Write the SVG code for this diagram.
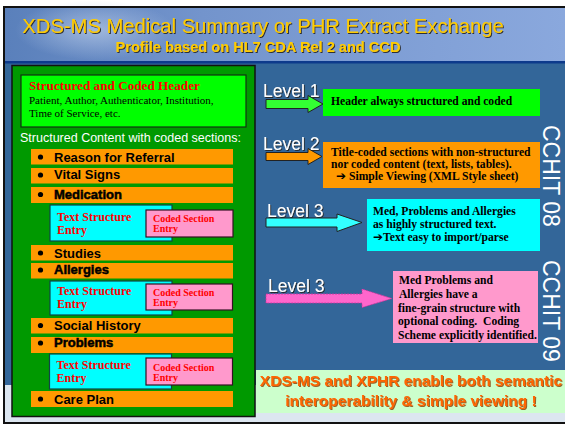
<svg xmlns="http://www.w3.org/2000/svg" width="565" height="426" viewBox="0 0 565 426">
<defs>
  <linearGradient id="tg" x1="0" y1="0" x2="1" y2="0">
    <stop offset="0" stop-color="#5a80bb"/>
    <stop offset="0.35" stop-color="#7394cc"/>
    <stop offset="1" stop-color="#8aa8dd"/>
  </linearGradient>
  <radialGradient id="glow" cx="0.5" cy="0.5" r="0.5">
    <stop offset="0" stop-color="#b8cbe8" stop-opacity="0.7"/>
    <stop offset="1" stop-color="#b8cbe8" stop-opacity="0"/>
  </radialGradient>
  <filter id="sh" x="-5%" y="-20%" width="110%" height="150%">
    <feDropShadow dx="1" dy="1" stdDeviation="0.2" flood-color="#222" flood-opacity="0.9"/>
  </filter>
  <filter id="sho" x="-5%" y="-20%" width="110%" height="150%">
    <feDropShadow dx="1" dy="1" stdDeviation="0.2" flood-color="#8a3a00" flood-opacity="0.8"/>
  </filter>
</defs>
<style>
  .sans{font-family:"Liberation Sans",Arial,sans-serif}
  .serif{font-family:"Liberation Serif","Times New Roman",serif}
  .bar{fill:#ff9900}
  .bul{fill:#000}
  .item{font-family:"Liberation Sans",Arial,sans-serif;font-size:13px;font-weight:bold;fill:#000}
  .heavy{stroke:#000;stroke-width:0.5}
  .cy{fill:#00ffff;stroke:#114444;stroke-width:1.2}
  .pk{fill:#ff99cc;stroke:#331122;stroke-width:1.2}
  .tse{font-family:"Liberation Serif","Times New Roman",serif;font-size:12px;font-weight:bold;fill:#ff0000}
  .cse{font-family:"Liberation Serif","Times New Roman",serif;font-size:10px;font-weight:bold;fill:#ff0000}
  .lvl{font-family:"Liberation Sans",Arial,sans-serif;font-size:17.5px;fill:#fff}
  .bx{font-family:"Liberation Serif","Times New Roman",serif;font-size:11.6px;font-weight:bold;fill:#000}
  .ar{font-family:"DejaVu Sans",sans-serif;font-size:12px;font-weight:bold}
  .cchit{font-family:"Liberation Sans",Arial,sans-serif;font-size:23px;fill:#fff}
  .arr{stroke:#222;stroke-width:1}
</style>

<!-- slide background -->
<rect x="0" y="0" width="565" height="426" fill="#ffffff"/>
<rect x="4" y="7" width="562" height="416" fill="#336699"/>
<rect x="5" y="8" width="560" height="53" fill="url(#tg)"/>
<ellipse cx="95" cy="30" rx="80" ry="30" fill="url(#glow)"/>
<rect x="5" y="61" width="560" height="2.5" fill="#0d3a8c"/>
<rect x="5" y="385" width="560" height="37" fill="#dce6f0"/>

<!-- title -->
<g id="title">
  <text class="sans" x="263" y="33" text-anchor="middle" font-size="20.2" fill="#ffcc00" filter="url(#sh)">XDS-MS Medical Summary or PHR Extract Exchange</text>
  <text class="sans" x="258" y="51.5" text-anchor="middle" font-size="14.6" font-weight="bold" fill="#ffcc00" filter="url(#sh)">Profile based on HL7 CDA Rel 2 and CCD</text>
</g>

<!-- left structure -->
<g id="document">
  <rect x="12" y="65.5" width="243" height="351" fill="#009900" stroke="#111" stroke-width="1.5"/>
</g>
<g id="header">
  <rect x="21" y="75" width="225" height="52" fill="#00ff00" stroke="#113311" stroke-width="1.2"/>
  <text class="serif" x="29" y="89.5" font-size="13.2" font-weight="bold" fill="#ff0000">Structured and Coded Header</text>
  <text class="serif" x="29" y="103.5" font-size="11" fill="#000">Patient, Author, Authenticator, Institution,</text>
  <text class="serif" x="29" y="117" font-size="11" fill="#000">Time of Service, etc.</text>
</g>
<text class="sans" x="20" y="141.5" font-size="12.5" fill="#fff">Structured Content with coded sections:</text>

<g id="reason">
  <rect class="bar" x="31" y="149" width="202" height="15.5"/>
  <circle class="bul" cx="40.5" cy="157" r="2.6"/>
  <text class="item" x="54" y="161.5">Reason for Referral</text>
</g>
<g id="vitals">
  <rect class="bar" x="31" y="168" width="202" height="15.5"/>
  <circle class="bul" cx="40.5" cy="175" r="2.6"/>
  <text class="item" x="54" y="179">Vital Signs</text>
</g>
<g id="medication">
  <rect class="bar" x="31" y="187" width="202" height="16"/>
  <circle class="bul" cx="40.5" cy="194.5" r="2.6"/>
  <text class="item heavy" x="54" y="198.5">Medication</text>
</g>
<g id="med-entries">
  <rect class="cy" x="50" y="205" width="122" height="36"/>
  <text class="tse" x="57" y="221">Text Structure</text>
  <text class="tse" x="57" y="234">Entry</text>
  <rect class="pk" x="146" y="210" width="87" height="27"/>
  <text class="cse" x="153" y="222">Coded Section</text>
  <text class="cse" x="153" y="232">Entry</text>
</g>
<g id="studies">
  <rect class="bar" x="31" y="245" width="202" height="15.5"/>
  <circle class="bul" cx="40.5" cy="253" r="2.6"/>
  <text class="item" x="54" y="257.5">Studies</text>
</g>
<g id="allergies">
  <rect class="bar" x="31" y="263" width="202" height="15.5"/>
  <circle class="bul" cx="40.5" cy="270" r="2.6"/>
  <text class="item heavy" x="54" y="274">Allergies</text>
</g>
<g id="allergy-entries">
  <rect class="cy" x="50" y="281" width="122" height="34"/>
  <text class="tse" x="57" y="295">Text Structure</text>
  <text class="tse" x="57" y="308">Entry</text>
  <rect class="pk" x="146" y="284" width="86.5" height="26"/>
  <text class="cse" x="153" y="296">Coded Section</text>
  <text class="cse" x="153" y="306">Entry</text>
</g>
<g id="social">
  <rect class="bar" x="31" y="318" width="202" height="15.5"/>
  <circle class="bul" cx="40.5" cy="325.5" r="2.6"/>
  <text class="item" x="54" y="329.5">Social History</text>
</g>
<g id="problems">
  <rect class="bar" x="31" y="337" width="202" height="16"/>
  <circle class="bul" cx="40.5" cy="343" r="2.6"/>
  <text class="item heavy" x="54" y="346.5">Problems</text>
</g>
<g id="problem-entries">
  <rect class="cy" x="49.5" y="354" width="122" height="35"/>
  <text class="tse" x="56.5" y="368.5">Text Structure</text>
  <text class="tse" x="56.5" y="382">Entry</text>
  <rect class="pk" x="146" y="358" width="86.5" height="27"/>
  <text class="cse" x="153" y="370.5">Coded Section</text>
  <text class="cse" x="153" y="380.5">Entry</text>
</g>
<g id="careplan">
  <rect class="bar" x="31" y="391" width="202" height="16"/>
  <circle class="bul" cx="40.5" cy="399" r="2.6"/>
  <text class="item" x="54" y="403.5">Care Plan</text>
</g>

<!-- level labels -->
<g id="labels">
  <text class="lvl" x="263" y="97" filter="url(#sh)">Level 1</text>
  <text class="lvl" x="263" y="150" filter="url(#sh)">Level 2</text>
  <text class="lvl" x="267" y="217" filter="url(#sh)">Level 3</text>
  <text class="lvl" x="268" y="292" filter="url(#sh)">Level 3</text>
</g>

<!-- connectors (block arrows) -->
<g id="connectors">
  <path class="arr" fill="#33ff33" d="M266,99.5 H308 V95.5 L323,104 L308,112.5 V108.5 H266 Z"/>
  <path class="arr" fill="#ff9900" d="M266,152.5 H308 V148.5 L322,156.5 L308,164.5 V160.5 H266 Z"/>
  <path class="arr" fill="#33ffff" d="M266,218 H337 V214 L362,222.5 L337,231.5 V227 H266 Z"/>
  <path fill="#ff66cc" stroke="#cc3399" stroke-width="0.8" stroke-dasharray="2 1" d="M266,294 H362 V289 L392,298.5 L362,307.5 V303 H266 Z"/>
</g>

<!-- level boxes -->
<g id="level1">
  <rect x="323" y="89" width="217" height="27" fill="#00ff00"/>
  <text class="bx" x="331" y="105">Header always structured and coded</text>
</g>
<g id="level2">
  <rect x="323" y="142" width="217" height="46" fill="#ff9900"/>
  <text class="bx" x="331" y="155.5">Title-coded sections with non-structured</text>
  <text class="bx" x="331" y="167.5">nor coded content (text, lists, tables).</text>
  <text class="bx" x="336" y="180" fill="#ffffff"><tspan class="ar">➔</tspan> Simple Viewing (XML Style sheet)</text>
</g>
<g id="level3a">
  <rect x="367" y="199" width="173" height="52" fill="#00ffff"/>
  <text class="bx" x="373" y="215">Med, Problems and Allergies</text>
  <text class="bx" x="373" y="227.5">as highly structured text.</text>
  <text class="bx" x="373" y="241" fill="#0000ff"><tspan class="ar">➔</tspan>Text easy to import/parse</text>
</g>
<g id="level3b">
  <rect x="393" y="271" width="145" height="72" fill="#ff99cc"/>
  <text class="bx" x="399" y="284">Med Problems and</text>
  <text class="bx" x="399" y="298">Allergies have a</text>
  <text class="bx" x="398" y="312">fine-grain structure with</text>
  <text class="bx" x="398" y="325" xml:space="preserve">optional coding.  Coding</text>
  <text class="bx" x="398" y="338.5">Scheme explicitly identified.</text>
</g>

<!-- CCHIT labels -->
<g id="cchit">
  <text class="cchit" transform="translate(543,125) rotate(90)">CCHIT 08</text>
  <text class="cchit" transform="translate(543,260) rotate(90)">CCHIT 09</text>
</g>

<!-- conclusion -->
<g id="conclusion">
  <rect x="256" y="370" width="309" height="43" fill="#ccffcc"/>
  <text class="sans" x="411" y="385.5" text-anchor="middle" font-size="15.5" font-weight="bold" fill="#ff6600" filter="url(#sho)">XDS-MS and XPHR enable both semantic</text>
  <text class="sans" x="411" y="406" text-anchor="middle" font-size="15.5" font-weight="bold" fill="#ff6600" filter="url(#sho)">interoperability &amp; simple viewing !</text>
</g>
<rect x="4" y="7" width="562" height="416" fill="none" stroke="#111" stroke-width="2"/>
</svg>
